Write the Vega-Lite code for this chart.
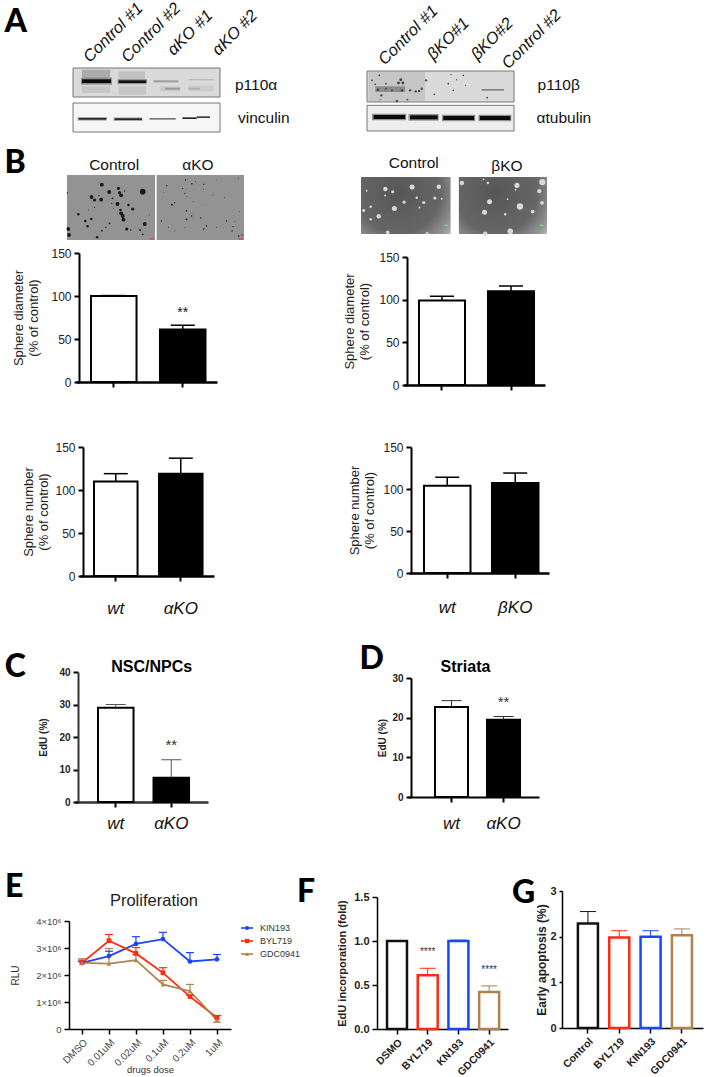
{"$schema":"https://vega.github.io/schema/vega-lite/v6.json","width":708,"height":1077,"padding":0,"autosize":{"type":"none"},"background":"white",
"config":{"font":"Liberation Sans","view":{"stroke":null},"axis":{"grid":false,"domainColor":"#000","domainWidth":2,"tickColor":"#000","tickWidth":2,"tickSize":5,"labelColor":"#222","titleColor":"#222","labelFontSize":12,"titleFontSize":13,"titleLineHeight":15,"titleFontWeight":"normal","labelPadding":3},"text":{"font":"Liberation Sans","color":"#111"}},
"resolve":{"scale":{"x":"independent","y":"independent","color":"independent","size":"independent","shape":"independent"},"axis":{"x":"independent","y":"independent"}},
"layer":[
{"encoding":{"x":{"field":"x","type":"quantitative","axis":null,"scale":{"domain":[38,480],"range":[73,220],"nice":false,"zero":false}},"y":{"field":"y","type":"quantitative","axis":null,"scale":{"domain":[25,217],"range":[68,132],"nice":false,"zero":false}}},
"layer":[
{"data":{"values":[{"x":38,"x2":480,"y":25,"y2":112,"s":0.13},{"x":38,"x2":480,"y":130,"y2":217,"s":0.03},{"x":65,"x2":150,"y":30,"y2":58,"s":0.3},{"x":175,"x2":255,"y":35,"y2":58,"s":0.22},{"x":65,"x2":150,"y":80,"y2":100,"s":0.2},{"x":175,"x2":258,"y":80,"y2":105,"s":0.2},{"x":300,"x2":360,"y":80,"y2":95,"s":0.19},{"x":385,"x2":460,"y":78,"y2":95,"s":0.18},{"x":62,"x2":155,"y":54,"y2":75,"s":0.42},{"x":65,"x2":152,"y":59,"y2":70,"s":0.97},{"x":172,"x2":260,"y":58,"y2":74,"s":0.38},{"x":175,"x2":258,"y":62,"y2":70,"s":0.95},{"x":280,"x2":355,"y":62,"y2":68,"s":0.36},{"x":315,"x2":360,"y":84,"y2":90,"s":0.36},{"x":385,"x2":460,"y":58,"y2":62,"s":0.24},{"x":385,"x2":420,"y":84,"y2":90,"s":0.28},{"x":52,"x2":140,"y":172,"y2":183,"s":0.3},{"x":55,"x2":138,"y":175,"y2":180,"s":0.85},{"x":160,"x2":247,"y":173,"y2":184,"s":0.3},{"x":163,"x2":245,"y":176,"y2":181,"s":0.85},{"x":268,"x2":347,"y":175,"y2":180,"s":0.5},{"x":367,"x2":410,"y":173,"y2":178,"s":0.85},{"x":410,"x2":450,"y":170,"y2":175,"s":0.75}]},"mark":{"type":"rect"},"encoding":{"x2":{"field":"x2"},"y2":{"field":"y2"},"color":{"field":"s","type":"quantitative","legend":null,"scale":{"domain":[0,1],"range":["#ffffff","#000000"]}}}},
{"data":{"values":[{"x":38,"x2":480,"y":25,"y2":112},{"x":38,"x2":480,"y":130,"y2":217}]},"mark":{"type":"rect","fill":null,"stroke":"#777","strokeWidth":1},"encoding":{"x2":{"field":"x2"},"y2":{"field":"y2"}}},
{"data":{"values":[{"t":"Control #1","x":78,"y":0},{"t":"Control #2","x":192,"y":0},{"t":"αKO #1","x":330,"y":-21},{"t":"αKO #2","x":465,"y":-21}]},"mark":{"type":"text","angle":315,"align":"left","baseline":"middle","fontSize":16.5,"fontStyle":"italic"},"encoding":{"text":{"field":"t"}}},
{"data":{"values":[{"t":"p110α","x":525,"y":75},{"t":"vinculin","x":534,"y":174}]},"mark":{"type":"text","align":"left","baseline":"middle","fontSize":15.5},"encoding":{"text":{"field":"t"}}},
{"data":{"values":[{"t":"A","x":-168,"y":-84}]},"mark":{"type":"text","align":"left","baseline":"alphabetic","font":"Lato","fontWeight":900,"fontSize":32,"color":"#000"},"encoding":{"text":{"field":"t"}}}
]},
{"encoding":{"x":{"field":"x","type":"quantitative","axis":null,"scale":{"domain":[35,478],"range":[367,514],"nice":false,"zero":false}},"y":{"field":"y","type":"quantitative","axis":null,"scale":{"domain":[32,212],"range":[71,131],"nice":false,"zero":false}}},
"layer":[
{"data":{"values":[{"x":35,"x2":478,"y":32,"y2":125,"s":0.13},{"x":35,"x2":478,"y":135,"y2":212,"s":0.06},{"x":40,"x2":210,"y":34,"y2":123,"s":0.2},{"x":60,"x2":150,"y":78,"y2":95,"s":0.42},{"x":380,"x2":448,"y":86,"y2":91,"s":0.45},{"x":50,"x2":153,"y":160,"y2":180,"s":0.4},{"x":55,"x2":150,"y":164,"y2":176,"s":0.97},{"x":160,"x2":251,"y":161,"y2":181,"s":0.4},{"x":165,"x2":248,"y":165,"y2":177,"s":0.97},{"x":261,"x2":361,"y":163,"y2":183,"s":0.4},{"x":265,"x2":358,"y":167,"y2":179,"s":0.97},{"x":371,"x2":470,"y":163,"y2":183,"s":0.4},{"x":375,"x2":467,"y":167,"y2":179,"s":0.97}]},"mark":{"type":"rect"},"encoding":{"x2":{"field":"x2"},"y2":{"field":"y2"},"color":{"field":"s","type":"quantitative","legend":null,"scale":{"domain":[0,1],"range":["#ffffff","#000000"]}}}},
{"data":{"values":[{"x":35,"x2":478,"y":32,"y2":125},{"x":35,"x2":478,"y":135,"y2":212}]},"mark":{"type":"rect","fill":null,"stroke":"#777","strokeWidth":1},"encoding":{"x2":{"field":"x2"},"y2":{"field":"y2"}}},
{"data":{"values":[{"x":72,"y":45,"d":3},{"x":50,"y":60,"d":3},{"x":60,"y":72,"d":3},{"x":92,"y":70,"d":3},{"x":130,"y":68,"d":5},{"x":143,"y":68,"d":5},{"x":137,"y":58,"d":5},{"x":68,"y":88,"d":4},{"x":78,"y":105,"d":4},{"x":92,"y":85,"d":3},{"x":110,"y":90,"d":3},{"x":140,"y":90,"d":4},{"x":125,"y":122,"d":4},{"x":165,"y":90,"d":4},{"x":182,"y":93,"d":4},{"x":192,"y":92,"d":4},{"x":200,"y":85,"d":4},{"x":213,"y":60,"d":4},{"x":238,"y":102,"d":3},{"x":280,"y":70,"d":3},{"x":295,"y":90,"d":3},{"x":305,"y":58,"d":2},{"x":325,"y":45,"d":3},{"x":332,"y":75,"d":2},{"x":288,"y":43,"d":2},{"x":397,"y":112,"d":3},{"x":157,"y":118,"d":3},{"x":75,"y":118,"d":2}]},"mark":{"type":"circle","color":"#333","opacity":0.85},"encoding":{"size":{"field":"d","type":"quantitative","legend":null,"scale":{"type":"pow","exponent":2,"domain":[0,9],"range":[0,28.3]}}}},
{"data":{"values":[{"t":"Control #1","x":78,"y":6},{"t":"βKO#1","x":225,"y":-9},{"t":"βKO#2","x":357,"y":-9},{"t":"Control #2","x":450,"y":18}]},"mark":{"type":"text","angle":315,"align":"left","baseline":"middle","fontSize":16.5,"fontStyle":"italic"},"encoding":{"text":{"field":"t"}}},
{"data":{"values":[{"t":"p110β","x":549,"y":75},{"t":"αtubulin","x":546,"y":174}]},"mark":{"type":"text","align":"left","baseline":"middle","fontSize":15.5},"encoding":{"text":{"field":"t"}}}
]},
{"encoding":{"x":{"field":"x","type":"quantitative","axis":null,"scale":{"domain":[20,553],"range":[67,244],"nice":false,"zero":false}},"y":{"field":"y","type":"quantitative","axis":null,"scale":{"domain":[15,210],"range":[175,240],"nice":false,"zero":false}}},
"layer":[
{"data":{"values":[{"x":20,"x2":285,"y":15,"y2":210},{"x":290,"x2":553,"y":15,"y2":210}]},"mark":{"type":"rect","fill":"#939393"},"encoding":{"x2":{"field":"x2"},"y2":{"field":"y2"}}},
{"data":{"values":[{"x":268,"x2":282,"y":204,"y2":209},{"x":536,"x2":551,"y":204,"y2":209}]},"mark":{"type":"rect","fill":"#d9534f"},"encoding":{"x2":{"field":"x2"},"y2":{"field":"y2"}}},
{"data":{"values":[{"x":125,"y":44,"d":6},{"x":175,"y":55,"d":5},{"x":147,"y":66,"d":6},{"x":248,"y":65,"d":9},{"x":178,"y":68,"d":5},{"x":183,"y":76,"d":6},{"x":94,"y":81,"d":6},{"x":103,"y":90,"d":5},{"x":123,"y":89,"d":6},{"x":172,"y":102,"d":6},{"x":205,"y":105,"d":4},{"x":218,"y":117,"d":5},{"x":181,"y":120,"d":4},{"x":183,"y":130,"d":6},{"x":188,"y":138,"d":6},{"x":190,"y":149,"d":6},{"x":54,"y":133,"d":4},{"x":93,"y":147,"d":4},{"x":75,"y":153,"d":4},{"x":82,"y":169,"d":4},{"x":254,"y":162,"d":6},{"x":200,"y":177,"d":5},{"x":24,"y":177,"d":6},{"x":26,"y":195,"d":6},{"x":111,"y":202,"d":4},{"x":125,"y":182,"d":3},{"x":240,"y":180,"d":3},{"x":248,"y":193,"d":3},{"x":148,"y":160,"d":3},{"x":157,"y":85,"d":3},{"x":155,"y":100,"d":2},{"x":116,"y":77,"d":2},{"x":194,"y":63,"d":2},{"x":21,"y":69,"d":2},{"x":103,"y":112,"d":2},{"x":85,"y":120,"d":1.5},{"x":160,"y":115,"d":1.5},{"x":137,"y":172,"d":2},{"x":212,"y":180,"d":2},{"x":268,"y":135,"d":1.5},{"x":320,"y":47,"d":2},{"x":377,"y":30,"d":2},{"x":396,"y":41,"d":2.5},{"x":407,"y":35,"d":1.5},{"x":368,"y":55,"d":2},{"x":375,"y":70,"d":2},{"x":381,"y":80,"d":1.5},{"x":432,"y":43,"d":2},{"x":430,"y":58,"d":1.5},{"x":460,"y":75,"d":1.5},{"x":495,"y":83,"d":1.5},{"x":336,"y":104,"d":3},{"x":344,"y":98,"d":2},{"x":400,"y":95,"d":1.5},{"x":380,"y":122,"d":2.5},{"x":395,"y":138,"d":2.5},{"x":380,"y":148,"d":3},{"x":304,"y":153,"d":2},{"x":423,"y":144,"d":2},{"x":440,"y":168,"d":2},{"x":432,"y":177,"d":2.5},{"x":375,"y":173,"d":1.5},{"x":345,"y":183,"d":1.5},{"x":325,"y":172,"d":1.5},{"x":470,"y":172,"d":1.5},{"x":500,"y":153,"d":2},{"x":520,"y":170,"d":2},{"x":525,"y":155,"d":1.5},{"x":517,"y":183,"d":2},{"x":537,"y":198,"d":2.5},{"x":547,"y":195,"d":2},{"x":536,"y":25,"d":1.5},{"x":470,"y":30,"d":1},{"x":540,"y":125,"d":1.5},{"x":435,"y":105,"d":1},{"x":310,"y":68,"d":1}]},"mark":{"type":"circle","color":"#111","opacity":0.95},"encoding":{"size":{"field":"d","type":"quantitative","legend":null,"scale":{"type":"pow","exponent":2,"domain":[0,9],"range":[0,32]}}}},
{"data":{"values":[{"t":"Control","x":162,"y":-15},{"t":"αKO","x":414,"y":-15}]},"mark":{"type":"text","align":"center","baseline":"middle","fontSize":15.5},"encoding":{"text":{"field":"t"}}},
{"data":{"values":[{"t":"B","x":-168,"y":9}]},"mark":{"type":"text","align":"left","baseline":"alphabetic","font":"Lato","fontWeight":900,"fontSize":32,"color":"#000"},"encoding":{"text":{"field":"t"}}}
]},
{"encoding":{"x":{"field":"x","type":"quantitative","axis":null,"scale":{"domain":[10,567],"range":[361,547],"nice":false,"zero":false}},"y":{"field":"y","type":"quantitative","axis":null,"scale":{"domain":[22,192],"range":[177,234],"nice":false,"zero":false}}},
"layer":[
{"data":{"values":[{"x":10,"x2":278,"y":22,"y2":192},{"x":303,"x2":567,"y":22,"y2":192}]},"mark":{"type":"rect","fill":{"gradient":"radial","x1":0.42,"y1":0.35,"r1":0,"x2":0.42,"y2":0.35,"r2":0.85,"stops":[{"offset":0,"color":"#565656"},{"offset":0.55,"color":"#666666"},{"offset":0.8,"color":"#999999"},{"offset":1,"color":"#ececec"}]}},"encoding":{"x2":{"field":"x2"},"y2":{"field":"y2"}}},
{"data":{"values":[{"x":260,"x2":270,"y":164,"y2":168},{"x":546,"x2":556,"y":164,"y2":168}]},"mark":{"type":"rect","fill":"#7fd77f"},"encoding":{"x2":{"field":"x2"},"y2":{"field":"y2"}}},
{"data":{"values":[{"x":83,"y":58,"d":7},{"x":163,"y":52,"d":8},{"x":243,"y":51,"d":7},{"x":105,"y":66,"d":5},{"x":27,"y":63,"d":3},{"x":82,"y":77,"d":3},{"x":177,"y":84,"d":4},{"x":139,"y":97,"d":5},{"x":198,"y":98,"d":5},{"x":231,"y":85,"d":5},{"x":252,"y":87,"d":3},{"x":110,"y":116,"d":8},{"x":185,"y":113,"d":3},{"x":39,"y":111,"d":4},{"x":18,"y":122,"d":5},{"x":63,"y":139,"d":7},{"x":39,"y":148,"d":4},{"x":90,"y":187,"d":6},{"x":208,"y":190,"d":4},{"x":312,"y":40,"d":7},{"x":377,"y":29,"d":3},{"x":390,"y":40,"d":4},{"x":477,"y":47,"d":8},{"x":553,"y":37,"d":10},{"x":473,"y":60,"d":3},{"x":544,"y":64,"d":7},{"x":552,"y":99,"d":6},{"x":395,"y":96,"d":8},{"x":449,"y":88,"d":3},{"x":486,"y":110,"d":10},{"x":380,"y":127,"d":8},{"x":442,"y":133,"d":4},{"x":524,"y":125,"d":6},{"x":457,"y":184,"d":9},{"x":382,"y":191,"d":7}]},"mark":{"type":"circle","color":"#d8d8d8","opacity":1},"encoding":{"size":{"field":"d","type":"quantitative","legend":null,"scale":{"type":"pow","exponent":2,"domain":[0,9],"range":[0,32]}}}},
{"data":{"values":[{"t":"Control","x":168,"y":-21},{"t":"βKO","x":447,"y":-12}]},"mark":{"type":"text","align":"center","baseline":"middle","fontSize":15.5},"encoding":{"text":{"field":"t"}}}
]},
{"data":{"values":[{"g":"wt","v":100,"u":100.5},{"g":"αKO","v":61,"u":66,"sig":"**"}]},
"encoding":{"x":{"field":"g","type":"nominal","sort":null,"scale":{"domain":["wt","αKO"],"range":[76,217],"paddingInner":0.34,"paddingOuter":0.192,"align":0.566},"axis":{"orient":"bottom","title":null,"labels":false,"offset":-695,"domainWidth":2.5}},"y":{"field":"v","type":"quantitative","scale":{"domain":[0,150],"range":[382,253],"nice":false},"axis":{"orient":"left","values":[0,50,100,150],"offset":-79,"title":["Sphere diameter","(% of control)"],"titlePadding":10}}},
"layer":[
{"mark":{"type":"bar","stroke":"#000","strokeWidth":2},"encoding":{"color":{"field":"g","type":"nominal","legend":null,"scale":{"domain":["wt","αKO"],"range":["#ffffff","#000000"]}}}},
{"mark":{"type":"rule","color":"#000","strokeWidth":1.5},"encoding":{"y2":{"field":"u"}}},
{"mark":{"type":"tick","orient":"horizontal","size":24,"thickness":1.5,"color":"#000","opacity":1},"encoding":{"y":{"field":"u","type":"quantitative"}}},
{"transform":[{"filter":"datum.sig"}],"mark":{"type":"text","dy":-12,"fontSize":14},"encoding":{"y":{"field":"u","type":"quantitative"},"text":{"field":"sig"}}}
]},
{"data":{"values":[{"g":"wt","v":99,"u":104},{"g":"βKO","v":110,"u":116}]},
"encoding":{"x":{"field":"g","type":"nominal","sort":null,"scale":{"domain":["wt","βKO"],"range":[404,545],"paddingInner":0.333,"paddingOuter":0.188,"align":0.577},"axis":{"orient":"bottom","title":null,"labels":false,"offset":-692,"domainWidth":2.5}},"y":{"field":"v","type":"quantitative","scale":{"domain":[0,150],"range":[385,257],"nice":false},"axis":{"orient":"left","values":[0,50,100,150],"offset":-407,"title":["Sphere diameter","(% of control)"],"titlePadding":7}}},
"layer":[
{"mark":{"type":"bar","stroke":"#000","strokeWidth":2},"encoding":{"color":{"field":"g","type":"nominal","legend":null,"scale":{"domain":["wt","βKO"],"range":["#ffffff","#000000"]}}}},
{"mark":{"type":"rule","color":"#000","strokeWidth":1.5},"encoding":{"y2":{"field":"u"}}},
{"mark":{"type":"tick","orient":"horizontal","size":24,"thickness":1.5,"color":"#000","opacity":1},"encoding":{"y":{"field":"u","type":"quantitative"}}}
]},
{"data":{"values":[{"g":"wt","v":110,"u":119},{"g":"αKO","v":119,"u":137}]},
"encoding":{"x":{"field":"g","type":"nominal","sort":null,"scale":{"domain":["wt","αKO"],"range":[80,214],"paddingInner":0.33,"paddingOuter":0.196,"align":0.55},"axis":{"orient":"bottom","title":null,"labelAngle":0,"labelFontSize":17,"labelFontStyle":"italic","labelPadding":19,"labelColor":"#111","offset":-501,"domainWidth":2.5}},"y":{"field":"v","type":"quantitative","scale":{"domain":[0,150],"range":[576,447],"nice":false},"axis":{"orient":"left","values":[0,50,100,150],"offset":-83,"title":["Sphere number","(% of control)"],"titlePadding":4}}},
"layer":[
{"mark":{"type":"bar","stroke":"#000","strokeWidth":2},"encoding":{"color":{"field":"g","type":"nominal","legend":null,"scale":{"domain":["wt","αKO"],"range":["#ffffff","#000000"]}}}},
{"mark":{"type":"rule","color":"#000","strokeWidth":1.5},"encoding":{"y2":{"field":"u"}}},
{"mark":{"type":"tick","orient":"horizontal","size":24,"thickness":1.5,"color":"#000","opacity":1},"encoding":{"y":{"field":"u","type":"quantitative"}}}
]},
{"data":{"values":[{"g":"wt","v":104,"u":114},{"g":"βKO","v":107,"u":119}]},
"encoding":{"x":{"field":"g","type":"nominal","sort":null,"scale":{"domain":["wt","βKO"],"range":[409,549],"paddingInner":0.316,"paddingOuter":0.1875,"align":0.588},"axis":{"orient":"bottom","title":null,"labelAngle":0,"labelFontSize":17,"labelFontStyle":"italic","labelPadding":21,"labelColor":"#111","offset":-504,"domainWidth":2.5}},"y":{"field":"v","type":"quantitative","scale":{"domain":[0,150],"range":[573,447],"nice":false},"axis":{"orient":"left","values":[0,50,100,150],"offset":-411,"title":["Sphere number","(% of control)"],"titlePadding":6}}},
"layer":[
{"mark":{"type":"bar","stroke":"#000","strokeWidth":2},"encoding":{"color":{"field":"g","type":"nominal","legend":null,"scale":{"domain":["wt","βKO"],"range":["#ffffff","#000000"]}}}},
{"mark":{"type":"rule","color":"#000","strokeWidth":1.5},"encoding":{"y2":{"field":"u"}}},
{"mark":{"type":"tick","orient":"horizontal","size":24,"thickness":1.5,"color":"#000","opacity":1},"encoding":{"y":{"field":"u","type":"quantitative"}}}
]},
{"data":{"values":[{"g":"wt","v":29,"u":30},{"g":"αKO","v":7.5,"u":13,"sig":"**"}]},
"encoding":{"x":{"field":"g","type":"nominal","sort":null,"scale":{"domain":["wt","αKO"],"range":[75,208],"paddingInner":0.36,"paddingOuter":0.378,"align":0.548},"axis":{"orient":"bottom","title":null,"labelAngle":0,"labelFontSize":17,"labelFontStyle":"italic","labelPadding":8,"labelColor":"#111","offset":-275,"domainWidth":2.5,"domainColor":"#333"}},"y":{"field":"v","type":"quantitative","scale":{"domain":[0,40],"range":[802,672],"nice":false},"axis":{"orient":"left","values":[0,10,20,30,40],"offset":-78,"title":"EdU (%)","titlePadding":10,"labelFontSize":10,"labelFontWeight":"bold","titleFontSize":10,"titleFontWeight":"bold","domainColor":"#333"}}},
"layer":[
{"mark":{"type":"bar","stroke":"#000","strokeWidth":2},"encoding":{"color":{"field":"g","type":"nominal","legend":null,"scale":{"domain":["wt","αKO"],"range":["#ffffff","#000000"]}}}},
{"mark":{"type":"rule","color":"#555","strokeWidth":1},"encoding":{"y2":{"field":"u"}}},
{"mark":{"type":"tick","orient":"horizontal","size":20,"thickness":1,"color":"#555","opacity":1},"encoding":{"y":{"field":"u","type":"quantitative"}}},
{"transform":[{"filter":"datum.sig"}],"mark":{"type":"text","dy":-15,"fontSize":15,"color":"#333"},"encoding":{"y":{"field":"u","type":"quantitative"},"text":{"field":"sig"}}},
{"data":{"values":[{"t":"NSC/NPCs","g":"wt","v":40}]},"mark":{"type":"text","dx":36,"dy":-5,"fontSize":16,"fontWeight":"bold","color":"#000"},"encoding":{"text":{"field":"t"}}},
{"data":{"values":[{"t":"C","g":"wt","v":40}]},"mark":{"type":"text","align":"left","baseline":"alphabetic","dx":-111,"dy":5,"font":"Lato","fontWeight":900,"fontSize":32,"color":"#000"},"encoding":{"text":{"field":"t"}}}
]},
{"data":{"values":[{"g":"wt","v":22.7,"u":24.3},{"g":"αKO","v":19.5,"u":20.3,"sig":"**"}]},
"encoding":{"x":{"field":"g","type":"nominal","sort":null,"scale":{"domain":["wt","αKO"],"range":[408,539],"paddingInner":0.365,"paddingOuter":0.442,"align":0.587},"axis":{"orient":"bottom","title":null,"labelAngle":0,"labelFontSize":17,"labelFontStyle":"italic","labelPadding":13,"labelColor":"#111","offset":-280}},"y":{"field":"v","type":"quantitative","scale":{"domain":[0,30],"range":[797,678],"nice":false},"axis":{"orient":"left","values":[0,10,20,30],"offset":-411,"title":"EdU (%)","titlePadding":4,"labelFontSize":10,"labelFontWeight":"bold","titleFontSize":10,"titleFontWeight":"bold"}}},
"layer":[
{"mark":{"type":"bar","stroke":"#000","strokeWidth":2},"encoding":{"color":{"field":"g","type":"nominal","legend":null,"scale":{"domain":["wt","αKO"],"range":["#ffffff","#000000"]}}}},
{"mark":{"type":"rule","color":"#333","strokeWidth":1},"encoding":{"y2":{"field":"u"}}},
{"mark":{"type":"tick","orient":"horizontal","size":20,"thickness":1,"color":"#333","opacity":1},"encoding":{"y":{"field":"u","type":"quantitative"}}},
{"transform":[{"filter":"datum.sig"}],"mark":{"type":"text","dy":-14,"fontSize":15,"color":"#333"},"encoding":{"y":{"field":"u","type":"quantitative"},"text":{"field":"sig"}}},
{"data":{"values":[{"t":"Striata","g":"wt","v":30}]},"mark":{"type":"text","dx":14,"dy":-11,"fontSize":16,"fontWeight":"bold","color":"#000"},"encoding":{"text":{"field":"t"}}},
{"data":{"values":[{"t":"D","g":"wt","v":30}]},"mark":{"type":"text","align":"left","baseline":"alphabetic","dx":-92,"dy":-9,"font":"Lato","fontWeight":900,"fontSize":32,"color":"#000"},"encoding":{"text":{"field":"t"}}}
]},
{"data":{"values":[
{"d":"DMSO","s":"KIN193","v":2450000,"u":2500000},{"d":"0.01uM","s":"KIN193","v":2700000,"u":2880000},{"d":"0.02uM","s":"KIN193","v":3150000,"u":3420000},{"d":"0.1uM","s":"KIN193","v":3330000,"u":3580000},{"d":"0.2uM","s":"KIN193","v":2500000,"u":2830000},{"d":"1uM","s":"KIN193","v":2580000,"u":2760000},
{"d":"DMSO","s":"BYL719","v":2450000,"u":2550000},{"d":"0.01uM","s":"BYL719","v":3270000,"u":3500000},{"d":"0.02uM","s":"BYL719","v":2800000,"u":3020000},{"d":"0.1uM","s":"BYL719","v":2080000,"u":2270000},{"d":"0.2uM","s":"BYL719","v":1200000,"u":1250000},{"d":"1uM","s":"BYL719","v":420000,"u":500000},
{"d":"DMSO","s":"GDC0941","v":2450000,"u":2600000},{"d":"0.01uM","s":"GDC0941","v":2420000,"u":2980000},{"d":"0.02uM","s":"GDC0941","v":2550000,"u":2750000},{"d":"0.1uM","s":"GDC0941","v":1650000,"u":1800000},{"d":"0.2uM","s":"GDC0941","v":1400000,"u":1650000},{"d":"1uM","s":"GDC0941","v":330000,"u":250000}]},
"encoding":{"x":{"field":"d","type":"nominal","sort":null,"scale":{"type":"point","domain":["DMSO","0.01uM","0.02uM","0.1uM","0.2uM","1uM"],"range":[69,231],"padding":0.5,"align":0.48},"axis":{"orient":"bottom","title":"drugs dose","labelAngle":-45,"labelFontSize":10,"titleFontSize":9.5,"labelColor":"#444","titleColor":"#333","offset":-48,"titlePadding":-3,"tickWidth":1.5,"domainWidth":1.5}},"y":{"field":"v","type":"quantitative","scale":{"domain":[0,4000000],"range":[1029,921],"nice":false},"axis":{"orient":"left","values":[0,1000000,2000000,3000000,4000000],"labelExpr":"datum.value==0?'0':(datum.value/1000000)+'×10⁶'","offset":-69,"title":"RLU","titleFontSize":10,"labelFontSize":9.5,"labelColor":"#444","titleColor":"#333","titlePadding":15,"tickWidth":1.5,"domainWidth":1.5}}},
"layer":[
{"encoding":{"color":{"field":"s","type":"nominal","sort":null,"legend":null,"scale":{"domain":["KIN193","BYL719","GDC0941"],"range":["#1a45ff","#ff2a12","#b0824d"]}}},
"layer":[
{"mark":{"type":"line","strokeWidth":1.8}},
{"mark":{"type":"rule","strokeWidth":1.2},"encoding":{"y2":{"field":"u"}}},
{"mark":{"type":"tick","orient":"horizontal","size":8,"thickness":1.2,"opacity":1},"encoding":{"y":{"field":"u","type":"quantitative"}}},
{"mark":{"type":"point","filled":true,"size":22,"opacity":1},"encoding":{"shape":{"field":"s","type":"nominal","sort":null,"legend":null,"scale":{"domain":["KIN193","BYL719","GDC0941"],"range":["circle","square","triangle-up"]}}}}
]},
{"data":{"values":[{"t":"Proliferation","d":"DMSO","v":4000000}]},"mark":{"type":"text","dx":72,"dy":-20,"fontSize":16.5,"color":"#222"},"encoding":{"text":{"field":"t"}}},
{"data":{"values":[{"t":"E","d":"DMSO","v":4000000}]},"mark":{"type":"text","align":"left","baseline":"alphabetic","dx":-77,"dy":-24,"font":"Lato","fontWeight":900,"fontSize":32,"color":"#000"},"encoding":{"text":{"field":"t"}}}
]},
{"data":{"values":[{"s":"KIN193","a":0,"b":1,"m":0.5},{"s":"BYL719","a":0,"b":1,"m":0.5},{"s":"GDC0941","a":0,"b":1,"m":0.5}]},
"encoding":{"y":{"field":"s","type":"nominal","sort":null,"axis":null,"scale":{"type":"point","domain":["KIN193","BYL719","GDC0941"],"range":[928,954],"padding":0}},"color":{"field":"s","type":"nominal","sort":null,"legend":null,"scale":{"domain":["KIN193","BYL719","GDC0941"],"range":["#1a45ff","#ff2a12","#b0824d"]}}},
"layer":[
{"mark":{"type":"rule","strokeWidth":1.6},"encoding":{"x":{"field":"a","type":"quantitative","axis":null,"scale":{"domain":[0,1],"range":[241,253],"nice":false,"zero":false}},"x2":{"field":"b"}}},
{"mark":{"type":"point","filled":true,"size":18,"opacity":1},"encoding":{"x":{"field":"m","type":"quantitative","axis":null,"scale":{"domain":[0,1],"range":[241,253],"nice":false,"zero":false}},"shape":{"field":"s","type":"nominal","sort":null,"legend":null,"scale":{"domain":["KIN193","BYL719","GDC0941"],"range":["circle","square","triangle-up"]}}}},
{"mark":{"type":"text","align":"left","dx":7,"fontSize":9,"color":"#333"},"encoding":{"x":{"field":"b","type":"quantitative","axis":null,"scale":{"domain":[0,1],"range":[241,253],"nice":false,"zero":false}},"color":{"value":"#333"},"text":{"field":"s"}}}
]},
{"data":{"values":[{"g":"DSMO","v":1,"u":1},{"g":"BYL719","v":0.61,"u":0.69,"sig":"****"},{"g":"KN193","v":1,"u":1.01},{"g":"GDC0941","v":0.42,"u":0.49,"sig":"****"}]},
"encoding":{"x":{"field":"g","type":"nominal","sort":null,"scale":{"domain":["DSMO","BYL719","KN193","GDC0941"],"range":[377,508],"paddingInner":0.35,"paddingOuter":0.308,"align":0.53},"axis":{"orient":"bottom","title":null,"labelAngle":-45,"labelAlign":"right","labelFontSize":10.5,"labelFontWeight":"bold","offset":-48,"domainWidth":1.5,"tickWidth":1.5}},"y":{"field":"v","type":"quantitative","scale":{"domain":[0,1.5],"range":[1029,897],"nice":false},"axis":{"orient":"left","values":[0,0.5,1,1.5],"format":".1f","offset":-377,"title":"EdU incorporation (fold)","titlePadding":6,"titleFontSize":11,"titleFontWeight":"bold","labelFontSize":11,"labelFontWeight":"bold","domainWidth":1.5,"tickWidth":1.5}}},
"layer":[
{"encoding":{"color":{"field":"g","type":"nominal","sort":null,"legend":null,"scale":{"domain":["DSMO","BYL719","KN193","GDC0941"],"range":["#111111","#ff2a12","#1a45ff","#b0824d"]}}},
"layer":[
{"mark":{"type":"rule","strokeWidth":1},"encoding":{"y2":{"field":"u"}}},
{"mark":{"type":"tick","orient":"horizontal","size":16,"thickness":1,"opacity":1},"encoding":{"y":{"field":"u","type":"quantitative"}}},
{"mark":{"type":"bar","filled":false,"strokeWidth":2.5}}
]},
{"transform":[{"filter":"datum.sig"}],"mark":{"type":"text","dy":-16,"fontSize":10,"color":"#333"},"encoding":{"y":{"field":"u","type":"quantitative"},"text":{"field":"sig"}}},
{"data":{"values":[{"t":"F","g":"DSMO","v":1.5}]},"mark":{"type":"text","align":"left","baseline":"alphabetic","dx":-100,"dy":5,"font":"Lato","fontWeight":900,"fontSize":32,"color":"#000"},"encoding":{"text":{"field":"t"}}}
]},
{"data":{"values":[{"g":"Control","v":2.29,"u":2.55},{"g":"BYL719","v":1.98,"u":2.13},{"g":"KIN193","v":2,"u":2.13},{"g":"GDC0941","v":2.03,"u":2.17}]},
"encoding":{"x":{"field":"g","type":"nominal","sort":null,"scale":{"domain":["Control","BYL719","KIN193","GDC0941"],"range":[562,703],"paddingInner":0.36,"paddingOuter":0.43,"align":0.59},"axis":{"orient":"bottom","title":null,"labelAngle":-45,"labelAlign":"right","labelFontSize":10.5,"labelFontWeight":"bold","offset":-49,"domainWidth":1.5,"tickWidth":1.5}},"y":{"field":"v","type":"quantitative","scale":{"domain":[0,3],"range":[1028,891],"nice":false},"axis":{"orient":"left","values":[0,1,2,3],"offset":-562,"title":"Early apoptosis (%)","titlePadding":1,"titleFontSize":12,"titleFontWeight":"bold","labelFontSize":11,"labelFontWeight":"bold","domainWidth":1.5,"tickWidth":1.5,"tickSize":3}}},
"layer":[
{"encoding":{"color":{"field":"g","type":"nominal","sort":null,"legend":null,"scale":{"domain":["Control","BYL719","KIN193","GDC0941"],"range":["#111111","#ff2a12","#1a45ff","#b0824d"]}}},
"layer":[
{"mark":{"type":"rule","strokeWidth":1},"encoding":{"y2":{"field":"u"}}},
{"mark":{"type":"tick","orient":"horizontal","size":16,"thickness":1,"opacity":1},"encoding":{"y":{"field":"u","type":"quantitative"}}},
{"mark":{"type":"bar","filled":false,"strokeWidth":2.5}}
]},
{"data":{"values":[{"t":"G","g":"Control","v":3}]},"mark":{"type":"text","align":"left","baseline":"alphabetic","dx":-76,"dy":12,"font":"Lato","fontWeight":900,"fontSize":32,"color":"#000"},"encoding":{"text":{"field":"t"}}}
]}
]}
